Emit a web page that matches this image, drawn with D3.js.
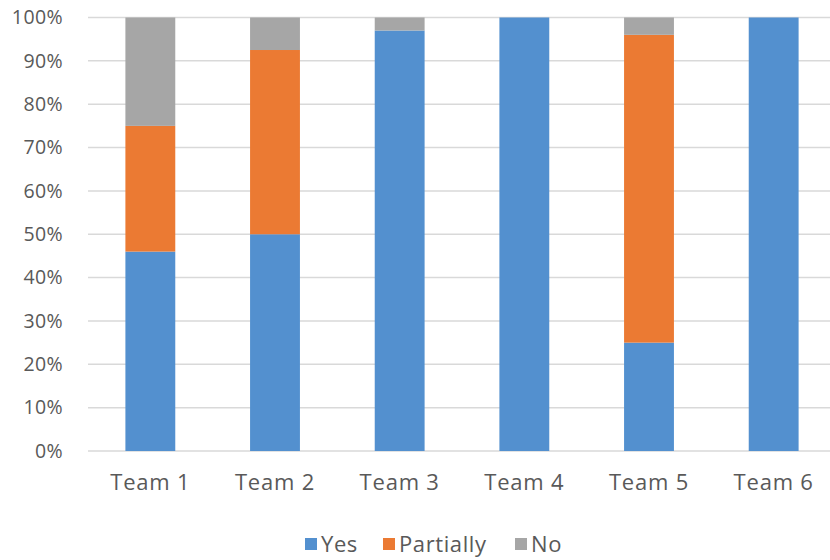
<!DOCTYPE html>
<html>
<head>
<meta charset="utf-8">
<script src="https://cdn.jsdelivr.net/npm/d3@7"></script>
<style>
  body { margin: 0; background: #fff; }
  svg { display: block; font-family: "Open Sans", "Noto Sans", sans-serif; }
</style>
</head>
<body>
<svg id="chart" width="830" height="560"></svg>
<script>
// Share of answers per team (percent)
const teams = ["Team 1", "Team 2", "Team 3", "Team 4", "Team 5", "Team 6"];
const yes       = [46, 50, 97, 100, 25, 100];
const partially = [29, 42.5, 0, 0, 71, 0];
const no        = [25, 7.5, 3, 0, 4, 0];
const seriesNames = ["Yes", "Partially", "No"];
const seriesColors = ["#5390cf", "#eb7a33", "#a6a6a6"];
const yTicks = [0, 10, 20, 30, 40, 50, 60, 70, 80, 90, 100];

const rows = teams.map((t, i) => ({ team: t, Yes: yes[i], Partially: partially[i], No: no[i] }));

const svg = d3.select("#chart");
const margin = { left: 88, top: 17.5, right: -6, bottom: 109 };
const W = 830, H = 560;
const fontFamily = "\"Open Sans\", \"Noto Sans\", sans-serif";

const x = d3.scaleBand().domain(teams)
  .range([margin.left, W - margin.right]).paddingInner(0.6).paddingOuter(0.3);
const y = d3.scaleLinear().domain([0, 100]).range([H - margin.bottom, margin.top]);

// Horizontal gridlines
svg.append("g").selectAll("line").data(yTicks).join("line")
  .attr("x1", margin.left).attr("x2", W - margin.right)
  .attr("y1", d => y(d)).attr("y2", d => y(d))
  .attr("stroke", "#d9d9d9").attr("stroke-width", 1.5);

// Y axis labels
const yAxis = svg.append("g")
  .attr("transform", `translate(${margin.left - 25},0)`)
  .call(d3.axisLeft(y).tickValues(yTicks).tickFormat(d => d + "%").tickSize(0).tickPadding(0));
yAxis.select(".domain").remove();
yAxis.selectAll("text").attr("fill", "#595959").attr("font-size", 19.5)
  .attr("letter-spacing", 0.4).attr("font-family", fontFamily);

// Stacked bars
const stack = d3.stack().keys(seriesNames)(rows);
svg.append("g").selectAll("g").data(stack).join("g")
  .attr("fill", (d, i) => seriesColors[i])
  .selectAll("rect").data(d => d).join("rect")
  .attr("x", d => x(d.data.team))
  .attr("width", x.bandwidth())
  .attr("y", d => y(d[1]))
  .attr("height", d => y(d[0]) - y(d[1]));

// X axis labels
const xAxis = svg.append("g")
  .attr("transform", `translate(0,${y(0) + 23})`)
  .call(d3.axisBottom(x).tickSize(0).tickPadding(0));
xAxis.select(".domain").remove();
xAxis.selectAll("text").attr("fill", "#595959").attr("font-size", 22)
  .attr("letter-spacing", 0.8).attr("font-family", fontFamily);

// Legend
const legendX = [305, 383, 515];
const legend = svg.append("g").selectAll("g").data(seriesNames).join("g")
  .attr("transform", (d, i) => `translate(${legendX[i]},538)`);
legend.append("rect").attr("width", 12).attr("height", 12)
  .attr("fill", (d, i) => seriesColors[i]);
legend.append("text").attr("x", 16).attr("y", 14)
  .attr("fill", "#595959").attr("font-size", 22).attr("letter-spacing", 0.6)
  .attr("font-family", fontFamily).text(d => d);
</script>
</body>
</html>
